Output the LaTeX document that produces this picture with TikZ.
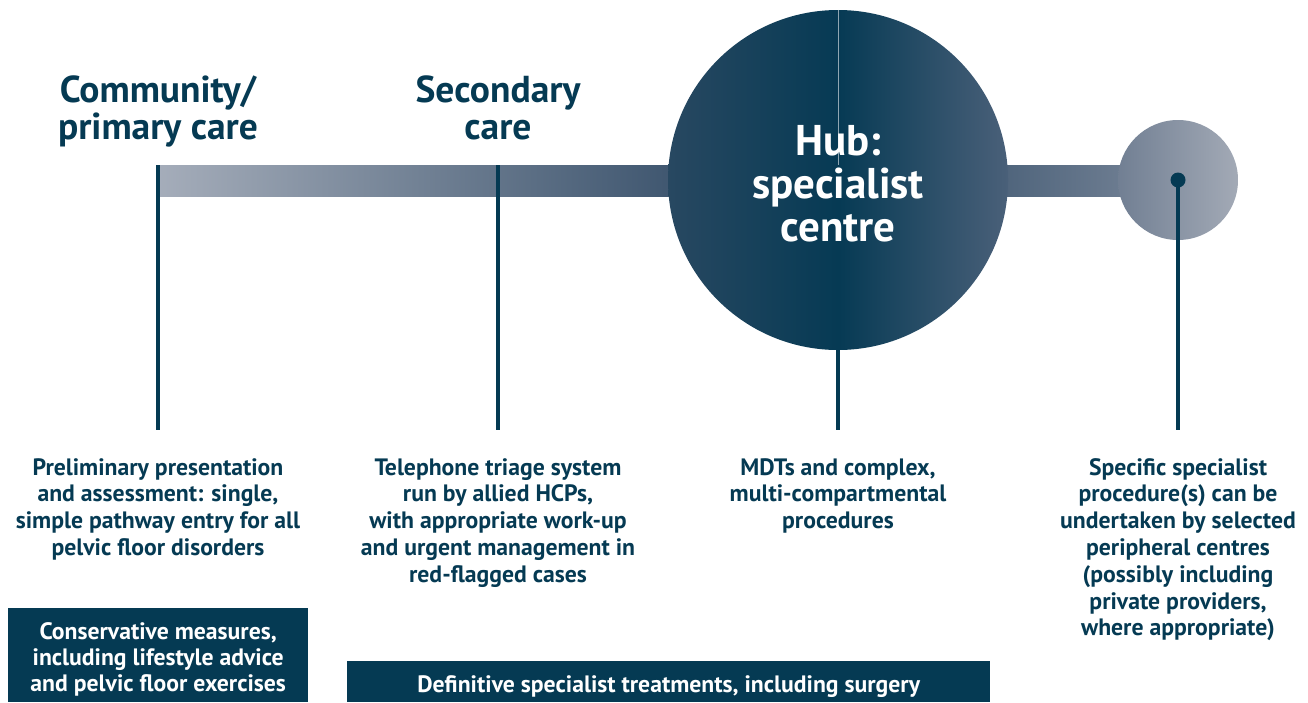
\documentclass[tikz,border=0pt]{standalone}
\usepackage{fontspec}
\setmainfont{PT Sans}
\definecolor{teal}{RGB}{5,58,83}
\definecolor{barlight}{RGB}{165,173,186}
\definecolor{bardark}{RGB}{58,82,108}
\definecolor{hubleft}{RGB}{40,72,97}
\definecolor{hubmid}{RGB}{6,58,84}
\definecolor{hubright}{RGB}{74,96,121}
\definecolor{rbarleft}{RGB}{76,98,122}
\definecolor{rbarright}{RGB}{112,127,147}
\definecolor{smallleft}{RGB}{113,127,147}
\definecolor{smallright}{RGB}{163,170,182}
\tikzset{
  title/.style={font=\bfseries\fontsize{37.5}{36.5}\selectfont, text=teal, align=center, inner sep=0pt, anchor=north},
  desc/.style={font=\bfseries\fontsize{23.7}{26.8}\selectfont, text=teal, align=center, inner sep=0pt, anchor=north},
  boxtext/.style={font=\bfseries\fontsize{23.7}{26}\selectfont, text=white, align=center, inner sep=0pt},
  stem/.style={draw=teal, line width=4pt},
}
\begin{document}
\begin{tikzpicture}[x=1pt,y=-1pt]
\useasboundingbox (0,0) rectangle (1308,702);
% bar
\shade[left color=barlight, right color=bardark, shading angle=90] (158,165) rectangle (700,196);
\shade[left color=rbarleft, right color=rbarright] (990,165) rectangle (1140,196);
% circles
\node[circle, minimum size=340pt, inner sep=0pt, left color=hubleft, right color=hubright, middle color=hubmid] (hub) at (838,180) {};
\node[circle, minimum size=120pt, inner sep=0pt, left color=smallleft, right color=smallright] (small) at (1178,180) {};
\draw[white!55!hubmid, line width=0.6pt] (hub.north) -- (838,165);
% anchor coordinates
\coordinate (c1) at (158,165);
\coordinate (c2) at (498,165);
\coordinate (e1) at (158,430);
\coordinate (e2) at (498,430);
\coordinate (e3) at (838,430);
\coordinate (e4) at (1178,430);
\draw[stem] (c1) -- (e1);
\draw[stem] (c2) -- (e2);
\draw[stem] (hub.south) -- (e3);
\draw[stem] (small.center) -- (e4);
\node[circle, fill=teal, minimum size=15pt, inner sep=0pt] (dot) at (small.center) {};
% titles
\node[title] (t1) at (158,76) {Community/\\primary care};
\node[title] (t2) at (498,76) {Secondary\\care};
\node[font=\bfseries\fontsize{43}{43}\selectfont, text=white, align=center, inner sep=0pt] (hubt) at (838,184) {Hub:\\specialist\\centre};
% descriptions
\node[desc] (d1) at (158,458) {Preliminary presentation\\and assessment: single,\\simple pathway entry for all\\pelvic floor disorders};
\node[desc] (d2) at (498,458) {Telephone triage system\\run by allied HCPs,\\with appropriate work-up\\and urgent management in\\red-flagged cases};
\node[desc] (d3) at (838,458) {MDTs and complex,\\multi-compartmental\\procedures};
\node[desc] (d4) at (1178,458) {Specific specialist\\procedure(s) can be\\undertaken by selected\\peripheral centres\\(possibly including\\private providers,\\where appropriate)};
% boxes
\node[fill=teal, minimum width=300pt, minimum height=94pt, inner sep=0pt, anchor=north west] (b1) at (8,608) {};
\node[boxtext] (b1t) at ([yshift=-4.5pt]b1.center) {Conservative measures,\\including lifestyle advice\\and pelvic floor exercises};
\node[fill=teal, minimum width=643pt, minimum height=41pt, inner sep=0pt, anchor=north west] (b2) at (347,661) {};
\node[boxtext] (b2t) at ([yshift=-4.5pt]b2.center) {Definitive specialist treatments, including surgery};
\end{tikzpicture}
\end{document}
